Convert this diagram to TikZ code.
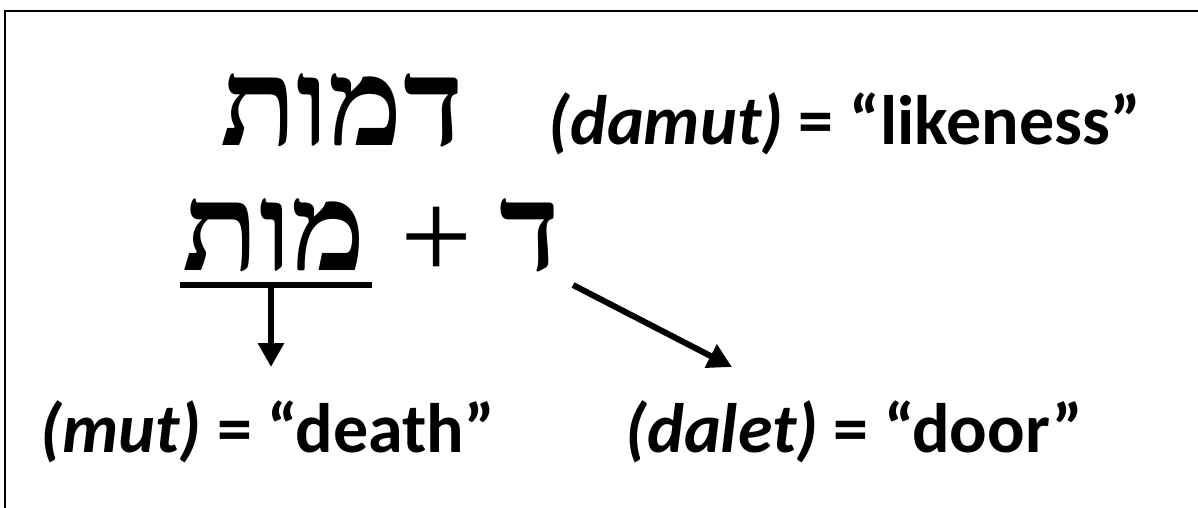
\documentclass[tikz,border=0pt]{standalone}
\usepackage{fontspec}
\setmainfont{Carlito}
\newfontfamily\hebfont[Script=Hebrew]{Liberation Serif}
\TeXXeTstate=1
\usetikzlibrary{arrows.meta}
\tikzset{
  frameline/.style={line width=1.5pt, line cap=rect},
  heb/.style={inner sep=0pt, xscale=1.03, font=\hebfont\bfseries\fontsize{122}{130}\selectfont},
  plus/.style={inner sep=0pt, font=\hebfont\fontsize{128}{140}\selectfont},
  en/.style={inner sep=0pt, font=\bfseries\fontsize{70}{80}\selectfont},
  uline/.style={line width=6pt},
  arr/.style={line width=6pt, -{Triangle[length=24pt,width=25pt]}}
}
\begin{document}
\begin{tikzpicture}[x=1pt,y=-1pt]
\useasboundingbox (0,0) rectangle (1198,508);
\fill[white] (0,0) rectangle (1198,508);
\draw[frameline] (5,508) -- (5,11) -- (1198,11);
% top line
\node[heb, anchor=base east] (damutH) at (464,145) {\beginR דמות\endR};
\node[en, anchor=base west] (damutE) at (548,144) {\textit{(damut)} = “likeness”};
% second line
\node[heb, anchor=base east] (mutH) at (366,270) {\beginR מות\endR};
\node[plus] (plusH) at (437,243) {+};
\node[heb, anchor=base east] (daletH) at (560,270) {\beginR ד\endR};
\coordinate (ulL) at (180,284.5);
\coordinate (ulR) at (372,284.5);
\draw[uline] (ulL) -- (ulR);
% arrows
\coordinate (downStart) at (271,284.5);
\coordinate (downTip) at (271,367);
\draw[arr] (downStart) -- (downTip);
\coordinate (diagStart) at (573,285);
\coordinate (diagTip) at (732,367);
\draw[arr] (diagStart) -- (diagTip);
% bottom labels
\node[en, anchor=base west] (mutE) at (40,452) {\textit{(mut)} = “death”};
\node[en, anchor=base west] (daletE) at (625,452) {\textit{(dalet)} = “door”};
\end{tikzpicture}
\end{document}
